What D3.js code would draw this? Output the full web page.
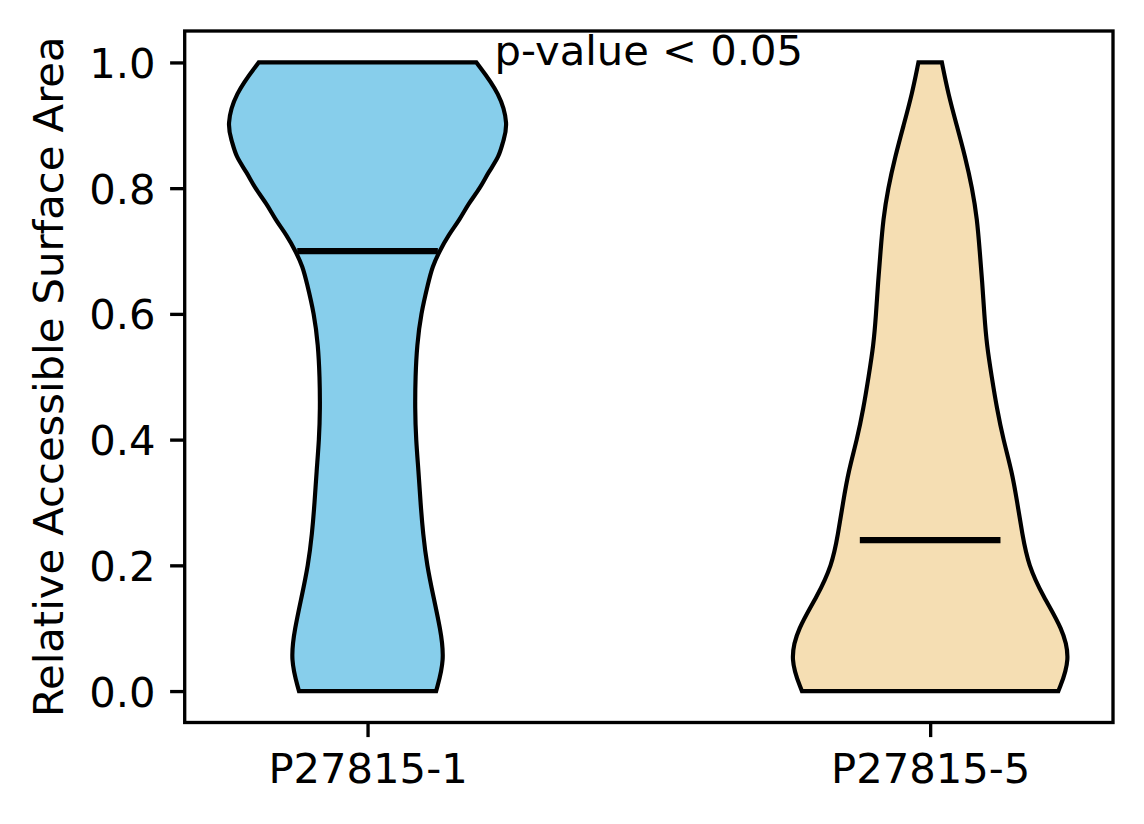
<!DOCTYPE html>
<html>
<head>
<meta charset="utf-8">
<script src="https://cdn.jsdelivr.net/npm/d3@7"></script>
<style>
  body { margin: 0; background: #fff; }
  text { font-family: "DejaVu Sans", sans-serif; fill: #000; }
</style>
</head>
<body>
<div class="chart"></div>
<script>
// categories and colours
var groups = ["P27815-1", "P27815-5"];
var colors = ["#87CEEB", "#F5DEB3"];

// y positions where the density was read (RSA values)
var levels1 = [0, 0.05, 0.1, 0.15, 0.2, 0.25, 0.3, 0.35, 0.4, 0.45, 0.5,
               0.55, 0.6, 0.65, 0.675, 0.7, 0.725, 0.75, 0.775, 0.8, 0.825, 0.85, 0.875, 0.9, 0.95, 1.0];
var levels5 = [0, 0.05, 0.1, 0.15, 0.2, 0.25, 0.3, 0.35, 0.4, 0.45, 0.5,
               0.55, 0.6, 0.65, 0.7, 0.75, 0.8, 0.85, 0.9, 0.95, 1.0];

// relative kde density
var density1 = [0.487, 0.549, 0.516, 0.468, 0.422, 0.394, 0.376, 0.362, 0.344, 0.337, 0.340,
                0.351, 0.379, 0.432, 0.460, 0.512, 0.573, 0.655, 0.715, 0.800, 0.857, 0.935, 0.963, 0.999, 0.943, 0.773];
var density5 = [0.908, 0.996, 0.936, 0.801, 0.695, 0.652, 0.617, 0.578, 0.518, 0.472, 0.436,
                0.401, 0.383, 0.369, 0.351, 0.333, 0.298, 0.248, 0.188, 0.128, 0.083];

var medians = [0.70, 0.24];
var yTicks = [0, 0.2, 0.4, 0.6, 0.8, 1.0];
var annotation = "p-value < 0.05";

var width = 1144, height = 824;
var margin = {left: 184.7, right: 1144 - 1113, top: 31, bottom: 824 - 722.5};

var svg = d3.select(".chart").append("svg")
  .attr("width", width).attr("height", height);

var x = d3.scaleLinear().domain([0.675, 2.325]).range([margin.left, width - margin.right]);
var y = d3.scaleLinear().domain([-0.05, 1.05]).range([height - margin.bottom, margin.top]);

var fs = 41.7;
var lw = 4.17;

var series = [[levels1, density1], [levels5, density5]];

series.forEach(function(s, i) {
  var pos = i + 1;
  var dens = s[1];
  var maxd = d3.max(dens);
  var pts = s[0].map(function(v, j) { return {v: v, w: dens[j] / maxd * 0.25}; });
  var area = d3.area()
    .y(function(d) { return y(d.v); })
    .x0(function(d) { return x(pos - d.w); })
    .x1(function(d) { return x(pos + d.w); })
    .curve(d3.curveBasis);
  svg.append("path")
    .attr("d", area(pts) + "Z")
    .attr("fill", colors[i])
    .attr("stroke", "#000")
    .attr("stroke-width", lw)
    .attr("stroke-linejoin", "miter");

  // median line
  svg.append("line")
    .attr("x1", x(pos - 0.125)).attr("x2", x(pos + 0.125))
    .attr("y1", y(medians[i])).attr("y2", y(medians[i]))
    .attr("stroke", "#000")
    .attr("stroke-width", 6.25);
});

// axes frame
svg.append("rect")
  .attr("x", margin.left).attr("y", margin.top)
  .attr("width", width - margin.right - margin.left)
  .attr("height", height - margin.bottom - margin.top)
  .attr("fill", "none").attr("stroke", "#000").attr("stroke-width", 3.33);

// y axis
var yAxis = d3.axisLeft(y).tickValues(yTicks).tickFormat(d3.format(".1f"))
  .tickSize(14.6).tickPadding(14.6);
var gy = svg.append("g").attr("transform", "translate(" + margin.left + ",0)").call(yAxis);
gy.select(".domain").remove();
gy.selectAll("line").attr("stroke", "#000").attr("stroke-width", 3.33);
gy.selectAll("text").attr("font-size", fs).attr("font-family", "DejaVu Sans").attr("dy", "0.36em");

// x axis
var xAxis = d3.axisBottom(x).tickValues([1, 2]).tickFormat(function(d) { return groups[d - 1]; })
  .tickSize(14.6).tickPadding(14.6);
var gx = svg.append("g").attr("transform", "translate(0," + (height - margin.bottom) + ")").call(xAxis);
gx.select(".domain").remove();
gx.selectAll("line").attr("stroke", "#000").attr("stroke-width", 3.33);
gx.selectAll("text").attr("font-size", fs).attr("font-family", "DejaVu Sans").attr("dy", "0.76em");

// y label
svg.append("text")
  .attr("transform", "translate(63," + ((margin.top + height - margin.bottom) / 2) + ") rotate(-90)")
  .attr("text-anchor", "middle")
  .attr("font-size", fs)
  .text("Relative Accessible Surface Area");

// annotation
svg.append("text")
  .attr("x", x(1.5)).attr("y", y(1.0) + 3)
  .attr("text-anchor", "middle")
  .attr("font-size", fs)
  .text(annotation);
</script>
</body>
</html>
